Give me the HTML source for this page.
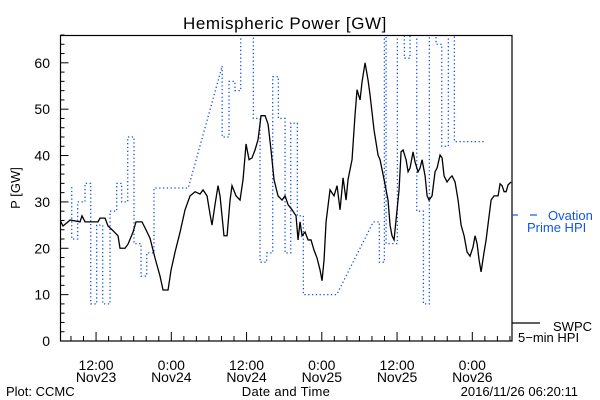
<!DOCTYPE html>
<html><head><meta charset="utf-8"><style>
body{margin:0;background:#fff}
svg{display:block;font-family:"Liberation Sans",sans-serif}
</style></head><body>
<svg id="chart" width="600" height="400" viewBox="0 0 600 400" xmlns="http://www.w3.org/2000/svg">
<rect width="600" height="400" fill="#fff"/>
<defs><clipPath id="plotclip"><rect x="60.5" y="35" width="451.5" height="306"/></clipPath></defs>
<text x="285" y="29" font-size="17" text-anchor="middle" letter-spacing="0.6">Hemispheric Power [GW]</text>
<text transform="translate(20,188) rotate(-90)" font-size="13" text-anchor="middle">P [GW]</text>
<g id="axes"></g>
<g id="series" clip-path="url(#plotclip)"></g>
<rect x="60.5" y="35.5" width="451.5" height="305.5" fill="none" stroke="#000" stroke-width="1.2"/>
<g>
<line x1="512" y1="215" x2="518" y2="215" stroke="#1155ee" stroke-width="1.2"/>
<line x1="530" y1="215" x2="537" y2="215" stroke="#1155ee" stroke-width="1.2"/>
<text x="548" y="220" font-size="13" fill="#1155ee">Ovation</text>
<text x="527" y="232" font-size="13" fill="#1155ee">Prime HPI</text>
<line x1="512" y1="323" x2="540" y2="323" stroke="#000" stroke-width="1.2"/>
<text x="553" y="331" font-size="13">SWPC</text>
<text x="518" y="342" font-size="13">5−min HPI</text>
</g>
<text x="6" y="396" font-size="13">Plot: CCMC</text>
<text x="286" y="396" font-size="13" text-anchor="middle" letter-spacing="0.3">Date and Time</text>
<text x="578" y="396" font-size="13" text-anchor="end">2016/11/26 06:20:11</text>
</svg>
<script>
// hours since 2016-11-23 00:00
const xDomain = [6.33, 78.33];
const yDomain = [0, 66];
const yTickValues = [0, 10, 20, 30, 40, 50, 60];
const xTickHours = [12, 24, 36, 48, 60, 72];
const xTickTimes = ["12:00", "0:00", "12:00", "0:00", "12:00", "0:00"];
const xTickDates = ["Nov23", "Nov24", "Nov24", "Nov25", "Nov25", "Nov26"];
const swpcHours = [6.25,6.73,7.53,7.85,9.44,9.76,10.24,12.31,12.63,13.43,13.91,14.55,15.5,15.82,16.62,17.1,17.9,18.37,19.33,19.81,20.6,21.4,22.2,22.68,23.48,23.96,24.6,25.4,26.19,26.99,27.79,28.58,29.06,29.7,30.17,30.49,30.97,31.45,31.77,32.4,32.89,33.37,33.68,34.32,34.96,35.44,35.92,36.4,36.87,37.35,37.83,38.31,38.95,39.43,39.9,40.38,41.02,41.66,42.14,42.62,43.25,43.89,44.21,44.53,44.85,45.33,45.81,46.28,46.76,47.24,47.72,48.04,48.36,48.68,49.31,49.95,50.43,50.91,51.39,51.87,52.18,52.82,53.3,53.62,54.1,54.42,54.9,55.37,55.69,56.33,56.97,57.29,57.93,58.56,58.88,59.2,59.52,60.0,60.32,60.64,60.96,61.44,61.76,62.07,62.55,62.87,63.35,63.67,63.99,64.47,64.79,65.1,65.58,66.06,66.38,66.86,67.18,67.5,67.97,68.45,68.77,69.25,69.73,70.21,70.69,71.16,71.64,72.12,72.44,72.76,73.08,73.4,73.88,74.2,74.68,75.0,75.47,76.11,76.43,76.75,77.07,77.39,77.71,78.19];
const swpcValues = [26.1,24.8,25.7,26.1,25.7,27,25.7,25.7,26.5,26.5,24.8,24,22.7,20,20,20.9,23.5,25.7,25.7,24.4,22.2,17.9,14,11,11,15.3,19.2,23.5,28.3,31.3,32.2,31.7,32.6,31.3,27.4,25,29.4,33.5,31.3,22.7,22.7,30.4,33.5,31.3,30.4,34.8,42.5,39.1,39.5,41.2,43.4,48.6,48.6,46.8,41.2,34.8,31.3,30.4,31.3,29.4,28.3,27,21.8,25.7,22.7,23.5,21.8,21.8,19.6,17.9,15.3,13,17.5,25.7,32.6,31.3,33.5,28.3,35.2,30.4,34.8,39.1,48.8,54.2,52,55.9,60,56.3,53.1,45.5,40.1,39.1,34.8,30.4,25,22.7,21.8,28.3,32.6,40.8,41.2,39.1,36.5,37.3,40.8,38.6,36.5,37.3,39.1,35.6,31.3,30.4,31.3,36.5,37.3,40.1,39.5,35.6,34.3,35.2,35.6,34.3,30.4,25,22.7,19.2,18.3,20.3,22.7,21,17.5,14.9,19.2,21.8,27,30.4,31.3,31.3,33.9,33.5,32.2,32.2,33.7,34.3];
const ovationHours = [8.12,8.12,9.07,9.07,10.24,10.24,11.15,11.15,12.1,12.1,13.06,13.06,14.23,14.23,15.3,15.3,16.09,16.09,17.05,17.05,18.05,18.05,19.17,19.17,20.08,20.08,21.24,21.24,26.71,32.11,32.11,33.2,33.2,34.15,34.15,35.07,35.07,37.08,37.08,38.15,38.15,39.21,39.21,40.17,40.17,41.07,41.07,42.14,42.14,43.05,43.05,44.1,44.1,45.06,45.06,50.38,56.22,57.18,57.18,57.98,57.98,58.25,58.25,60.05,60.05,61.17,61.17,62.07,62.07,63.14,63.14,64.2,64.2,65.15,65.15,66.22,66.22,67.13,67.13,68.18,68.18,69.14,69.14,74.03];
const ovationValues = [33.2,22,22,30,30,34,34,8,8,25,25,8,8,28,28,34,34,30,30,44,44,21,21,14,14,19,19,33,33,59.3,44,44,56,56,54,54,70,70,48,48,17,17,19,19,57,57,48,48,19,19,47,47,27,27,10,10,25.7,25.7,17,17,70,70,21,21,70,70,61,61,70,70,28,28,8,8,70,70,64,64,42,42,70,70,43,43];

const L=60.5,R=512,T=35,B=341;
const xs=h=>L+(h-xDomain[0])/(xDomain[1]-xDomain[0])*(R-L);
const ys=v=>B-(v-yDomain[0])/(yDomain[1]-yDomain[0])*(B-T);
const NS="http://www.w3.org/2000/svg";
function mk(tag,attrs){const e=document.createElementNS(NS,tag);for(const k in attrs)e.setAttribute(k,attrs[k]);return e;}
const axes=document.getElementById('axes');
const series=document.getElementById('series');
for(let v=0;v<=66;v+=2){
  const major=v%10===0;
  const t=mk('line',{x1:L,x2:L+(major?8:4),y1:ys(v),y2:ys(v),stroke:'#000','stroke-width':1});
  
  
  axes.appendChild(t);
}
yTickValues.forEach(v=>{
  const t=mk('text',{x:50,y:ys(v)+5,'font-size':14,'text-anchor':'end'});
  t.textContent=String(v);
  
  
  axes.appendChild(t);
});
for(let h=8;h<=78;h+=2){
  const major=h%12===0;
  const t=mk('line',{x1:xs(h),x2:xs(h),y1:B,y2:B-(major?9:5),stroke:'#000','stroke-width':1});
  
  
  axes.appendChild(t);
}
xTickHours.forEach((h,i)=>{
  const a=mk('text',{x:xs(h),y:370,'font-size':14,'text-anchor':'middle'});
  a.textContent=xTickTimes[i];
  
  
  axes.appendChild(a);
  const b=mk('text',{x:xs(h),y:382,'font-size':14,'text-anchor':'middle'});
  b.textContent=xTickDates[i];
  
  
  axes.appendChild(b);
});
const op=mk('polyline',{points:ovationHours.map((h,i)=>xs(h)+','+ys(ovationValues[i])).join(' '),fill:'none',stroke:'#1155ee','stroke-width':1.3,'stroke-dasharray':'1.3 2.5'});


series.appendChild(op);
const sp=mk('polyline',{points:swpcHours.map((h,i)=>xs(h)+','+ys(swpcValues[i])).join(' '),fill:'none',stroke:'#000','stroke-width':1.3});


series.appendChild(sp);
</script>
</body></html>
